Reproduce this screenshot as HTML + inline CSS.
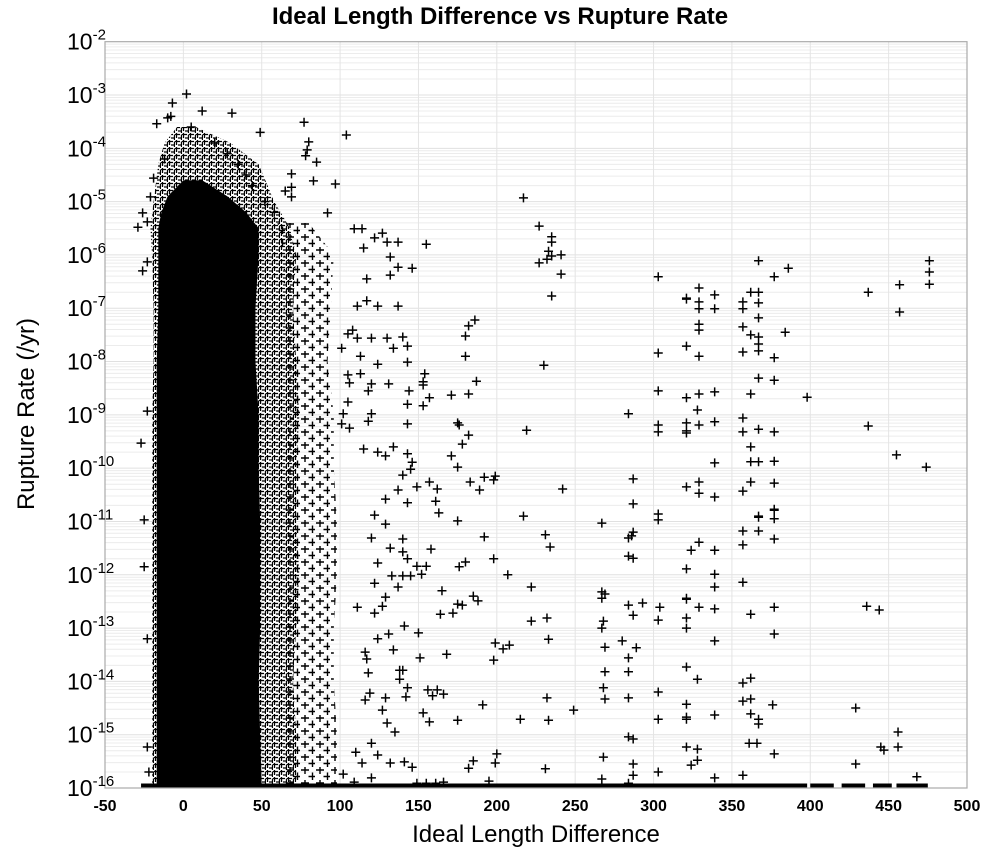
<!DOCTYPE html>
<html><head><meta charset="utf-8"><style>
html,body{margin:0;padding:0;background:#fff;}
svg{display:block;font-family:"Liberation Sans","DejaVu Sans",sans-serif;}
</style></head><body>
<svg id="chart" width="1000" height="850" viewBox="0 0 1000 850">
<defs>
<pattern id="plusPat" width="7" height="7" patternUnits="userSpaceOnUse">
<path d="M-2 1.5H5M1.5 -2V5M3 5H10M6.5 1.5V8.5" stroke="#000" stroke-width="1.3" fill="none"/>
</pattern>
<pattern id="plusPatSparse" width="15" height="13" patternUnits="userSpaceOnUse">
<path d="M1 3H9M5 -1V7M8.5 9.5H16.5M12.5 5.5V13.5" stroke="#000" stroke-width="1.4" fill="none"/>
</pattern>
<clipPath id="plotClip"><rect x="105" y="41.7" width="862" height="746.3"/></clipPath>
</defs>
<rect x="0" y="0" width="1000" height="850" fill="#fff"/>
<text x="500" y="24" text-anchor="middle" font-size="24" font-weight="bold">Ideal Length Difference vs Rupture Rate</text>
<g id="grid"></g>
<g id="marks" clip-path="url(#plotClip)"></g>
<rect x="105" y="41.7" width="862" height="746.3" fill="none" stroke="#aaa" stroke-width="1.2"/>
<g id="xticks"></g>
<g id="yticks"></g>
<text x="536" y="842" text-anchor="middle" font-size="24">Ideal Length Difference</text>
<text x="0" y="0" transform="translate(34,414) rotate(-90)" text-anchor="middle" font-size="24">Rupture Rate (/yr)</text>
</svg>
<script>
const xTicks = [-50,0,50,100,150,200,250,300,350,400,450,500];
const yTickExps = [-2,-3,-4,-5,-6,-7,-8,-9,-10,-11,-12,-13,-14,-15,-16];
// dense core band (log10 rate vs x extent)
const coreLogRate = [-4.6,-4.9,-5.2,-5.5,-6,-7,-8,-9,-10,-11,-12,-13,-14,-15,-16];
const coreLeft  = [0,-10,-14,-16,-16,-16,-17,-17,-17,-17,-17,-17,-17,-17,-17];
const coreRight = [12,28,40,48,48,46,46,48,48,49,49,49,48,49,50];
// semi-dense fringe band
const fringeLogRate = [-3.6,-3.9,-4.3,-5,-5.5,-6,-7,-8,-9,-10,-11,-12,-13,-14,-15,-16];
const fringeLeft  = [-4,-12,-16,-19,-21,-20,-19,-19,-20,-20,-20,-20,-20,-20,-20,-20];
const fringeRight = [8,30,48,58,68,72,70,72,74,72,72,74,72,70,72,72];
// sparse outer fringe band
const sparseLogRate = [-5.4,-6,-7,-8,-9,-10,-11,-12,-13,-14,-15,-16];
const sparseLeft  = [60,64,64,66,68,66,66,68,66,64,66,66];
const sparseRight = [80,96,94,92,96,96,98,98,96,96,98,98];
// floor (points at 1e-16)
const floorFrom = [-27,400,420,440,455];
const floorTo   = [398,415,435,452,475];
// scattered points
const ptX = [367,386,377,329,339,321,329,329,339,362,367,357,367,357,367,329,329,357,362,367,367,384,321,329,357,367,377,367,377,398,321,329,339,362,328,321,321,329,339,357,357,367,377,362,339,362,367,377,321,329,329,339,362,377,357,367,377,437,457,457,476,476,476,437,455,474,
377,367,377,357,367,377,329,324,339,357,321,339,357,339,321,329,339,362,377,321,321,339,377,321,328,357,362,357,362,321,321,339,362,367,367,376,321,328,361,366,377,324,328,339,357,436,444,429,429,456,445,447,456,468,
217,227,235,235,233,235,232,241,227,241,235,230,219,303,321,155,146,186,182,180,180,187,182,171,154,153,153,157,153,144,143,143,143,143,140,175,176,182,178,171,175,143,146,145,140,157,149,162,183,189,192,198,199,242,303,303,284,287,303,303,321,
143,161,163,175,217,140,158,140,143,149,155,140,145,152,176,180,198,192,231,234,207,222,165,185,188,175,178,172,164,141,150,222,232,233,199,204,208,198,168,151,140,143,156,162,142,159,166,191,153,157,175,215,233,232,249,200,199,185,182,231,141,146,149,155,161,166,195,267,267,269,267,268,267,269,269,268,269,268,267,287,287,286,284,284,287,284,293,287,280,289,284,284,284,284,287,287,287,284,303,303,304,303,303,303,303,321,321,
2,-7,-10,-17,12,31,77,104,80,79,78,85,83,97,49,69,69,65,69,92,109,114,122,127,130,137,115,132,137,132,117,137,124,111,117,130,120,111,134,113,124,113,131,120,118,120,118,105,102,106,101,108,105,101,105,106,-26,-29,-23,-23,-26,-19,-21,-23,
-27,-25,-25,-23,-23,-22,115,124,129,134,129,137,122,129,120,132,124,133,137,122,129,111,127,122,131,124,116,134,117,118,138,138,119,129,127,116,130,135,120,124,110,114,132,102,120,109,
-8,5,20,28,35,40,44,-12,52,58];
const ptLogRate = [-6.11,-6.25,-6.41,-6.62,-6.75,-6.81,-6.88,-7.01,-7.01,-6.70,-6.70,-6.88,-6.90,-7.01,-7.18,-7.30,-7.41,-7.35,-7.50,-7.54,-7.67,-7.45,-7.71,-7.90,-7.82,-7.80,-7.93,-8.31,-8.35,-8.67,-8.68,-8.61,-8.57,-8.61,-8.91,-9.15,-9.34,-9.19,-9.13,-9.06,-9.32,-9.27,-9.32,-9.60,-9.90,-9.88,-9.88,-9.87,-10.35,-10.26,-10.47,-10.54,-10.26,-10.28,-10.43,-10.90,-10.77,-6.70,-6.56,-7.07,-6.11,-6.32,-6.55,-9.21,-9.75,-9.98,
-10.79,-10.92,-10.95,-11.18,-11.18,-11.33,-11.39,-11.54,-11.54,-11.44,-11.89,-11.99,-12.14,-12.23,-12.46,-12.61,-12.64,-12.74,-12.61,-12.81,-13.0,-13.24,-13.11,-13.73,-13.96,-14.03,-13.94,-14.37,-14.33,-14.43,-14.67,-14.63,-14.61,-14.71,-14.80,-14.44,-15.23,-15.27,-15.16,-15.16,-15.36,-15.57,-15.48,-15.81,-15.76,-12.59,-12.66,-14.50,-15.55,-14.95,-15.23,-15.29,-15.23,-15.79,
-4.93,-5.46,-5.66,-5.76,-5.93,-6.02,-6.08,-6.00,-6.15,-6.36,-6.77,-8.07,-9.29,-6.41,-6.83,-5.80,-6.25,-7.22,-7.33,-7.52,-7.90,-8.37,-8.61,-8.63,-8.23,-8.38,-8.44,-8.68,-8.83,-8.55,-8.80,-9.17,-7.71,-8.01,-7.54,-9.15,-9.19,-9.38,-9.55,-9.77,-9.98,-9.73,-9.89,-10.02,-10.13,-10.26,-10.35,-10.39,-10.26,-10.41,-10.17,-10.22,-10.15,-10.39,-7.84,-8.55,-8.98,-10.20,-9.19,-9.32,-9.30,
-10.65,-10.62,-10.84,-10.99,-10.90,-11.33,-11.52,-11.57,-11.70,-11.84,-11.84,-12.02,-12.02,-11.99,-11.85,-11.76,-11.70,-11.29,-11.25,-11.48,-12.00,-12.23,-12.30,-12.40,-12.49,-12.55,-12.57,-12.72,-12.74,-12.96,-13.09,-12.87,-12.81,-13.21,-13.28,-13.39,-13.32,-13.60,-13.49,-13.56,-13.79,-14.12,-14.16,-14.16,-14.29,-14.27,-14.24,-14.44,-14.59,-14.76,-14.73,-14.71,-14.73,-14.31,-14.54,-15.36,-15.53,-15.49,-15.63,-15.64,-15.51,-15.61,-15.91,-15.91,-15.91,-15.89,-15.87,-11.03,-12.32,-12.36,-12.44,-12.87,-13.0,-13.36,-13.82,-14.12,-14.33,-15.42,-15.83,-10.67,-11.20,-11.27,-11.31,-11.65,-11.69,-12.57,-12.53,-12.76,-13.24,-13.37,-13.56,-13.82,-14.31,-15.04,-15.08,-15.55,-15.76,-15.91,-10.86,-10.97,-12.61,-12.85,-14.20,-14.71,-15.70,-12.44,-14.71,
-2.98,-3.15,-3.43,-3.54,-3.30,-3.34,-3.51,-3.75,-3.88,-4.03,-4.14,-4.26,-4.61,-4.67,-3.70,-4.48,-4.73,-4.80,-4.91,-5.21,-5.51,-5.51,-5.68,-5.59,-5.76,-5.76,-5.87,-6.04,-6.23,-6.38,-6.45,-6.96,-6.96,-6.96,-6.86,-7.56,-7.56,-7.56,-7.75,-7.90,-8.05,-8.23,-8.42,-8.42,-8.55,-8.98,-9.12,-8.76,-8.98,-9.25,-9.17,-7.41,-7.48,-7.75,-8.25,-8.40,-5.21,-5.48,-5.38,-6.13,-6.30,-4.56,-4.91,-8.93,
-9.53,-10.97,-11.85,-13.20,-15.23,-15.70,-9.64,-9.70,-9.77,-9.60,-10.58,-10.41,-10.88,-11.05,-11.31,-11.50,-11.78,-12.02,-12.23,-12.16,-12.42,-12.61,-12.59,-12.72,-13.11,-13.20,-13.45,-13.41,-13.58,-13.84,-13.79,-13.96,-14.22,-14.31,-14.54,-14.35,-14.78,-14.95,-15.16,-15.38,-15.33,-15.53,-15.53,-15.74,-15.81,-15.89,
-3.4,-3.6,-3.9,-4.1,-4.3,-4.5,-4.7,-4.2,-5.0,-5.2];

const NS = "http://www.w3.org/2000/svg";
const X0 = 105, X1 = 967, Y0 = 41.7, Y1 = 788;
const xMin = -50, xMax = 500, eMax = -2, eMin = -16;
function xs(v){ return X0 + (v - xMin) / (xMax - xMin) * (X1 - X0); }
function ys(e){ return Y0 + (eMax - e) / (eMax - eMin) * (Y1 - Y0); }
function mk(tag, attrs, parent){
  const el = document.createElementNS(NS, tag);
  for (const k in attrs) el.setAttribute(k, attrs[k]);
  parent.appendChild(el); return el;
}
const grid = document.getElementById('grid');
const marks = document.getElementById('marks');
const xt = document.getElementById('xticks');
const yt = document.getElementById('yticks');

for (let d = eMin; d < eMax; d++) {
  for (let m = 1; m <= 9; m++) {
    const y = ys(d + Math.log10(m));
    const ln = mk('line', {x1:X0, x2:X1, y1:y, y2:y, stroke: m===1 ? '#e0e0e0' : '#ececec', 'stroke-width':1}, grid);
    
    
  }
}
xTicks.forEach(t => {
  const x = xs(t);
  const ln = mk('line', {x1:x, x2:x, y1:Y0, y2:Y1, stroke:'#e4e4e4', 'stroke-width':1}, grid);
  
  
  const tx = mk('text', {x:x, y:811, 'text-anchor':'middle', 'font-size':16, 'font-weight':'bold'}, xt);
  tx.textContent = String(t);
  
  
});
yTickExps.forEach(e => {
  const y = ys(e);
  const tx = mk('text', {x:67, y:y + 8, 'font-size':23}, yt);
  tx.textContent = '10';
  const sp = mk('tspan', {dy:-10, 'font-size':15}, tx);
  sp.textContent = String(e);
  
  
});

function band(lr, left, right, fill, name){
  const pts = [];
  for (let i = 0; i < lr.length; i++) pts.push(xs(left[i]) + ',' + ys(lr[i]));
  for (let i = lr.length - 1; i >= 0; i--) pts.push(xs(right[i]) + ',' + ys(lr[i]));
  const p = mk('polygon', {points: pts.join(' '), fill: fill}, marks);
  
  
}
band(sparseLogRate, sparseLeft, sparseRight, 'url(#plusPatSparse)', 'sparse-fringe-band');
band(fringeLogRate, fringeLeft, fringeRight, 'url(#plusPat)', 'fringe-density-band');
band(coreLogRate, coreLeft, coreRight, '#000', 'core-density-band');

for (let i = 0; i < floorFrom.length; i++) {
  const r = mk('rect', {x: xs(floorFrom[i]), y: ys(eMin) - 4.5, width: xs(floorTo[i]) - xs(floorFrom[i]), height: 4.5, fill:'#000'}, marks);
  
  
}

let d = '';
const n = Math.min(ptX.length, ptLogRate.length);
for (let i = 0; i < n; i++) {
  const x = xs(ptX[i]), y = ys(ptLogRate[i]);
  d += 'M' + (x - 4.5) + ' ' + y + 'H' + (x + 4.5) + 'M' + x + ' ' + (y - 4.5) + 'V' + (y + 4.5);
}
const pp = mk('path', {d: d, stroke:'#000', 'stroke-width':1.5, fill:'none'}, marks);


</script>
</body></html>
